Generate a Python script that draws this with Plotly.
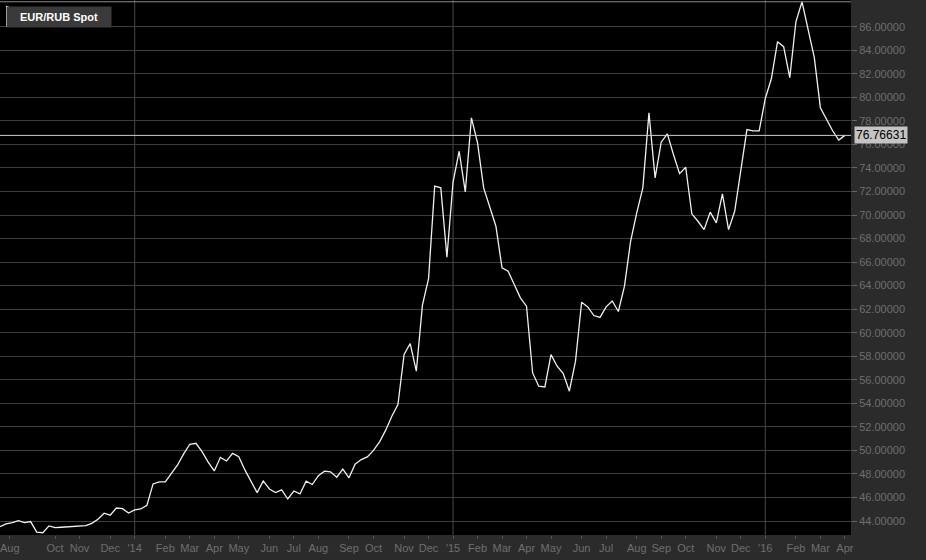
import plotly.graph_objects as go

series_name = "EUR/RUB Spot"
# weekly closes, index 0 = early Aug 2013
values = [
    43.52, 43.75, 43.86, 44.03, 43.86, 43.95, 43.06, 43.00, 43.58, 43.43,
    43.47, 43.50, 43.58, 43.60, 43.60, 43.80, 44.15, 44.66, 44.49, 45.10,
    45.05, 44.68, 44.94, 45.02, 45.34, 47.15, 47.32, 47.32, 48.05, 48.76,
    49.70, 50.52, 50.60, 49.89, 49.00, 48.25, 49.41, 49.10, 49.75, 49.47,
    48.34, 47.40, 46.41, 47.40, 46.72, 46.41, 46.64, 45.87, 46.55, 46.30,
    47.38, 47.10, 47.84, 48.23, 48.18, 47.72, 48.40, 47.67, 48.83, 49.22,
    49.45, 50.00, 50.73, 51.72, 52.90, 53.90, 58.15, 59.08, 56.73, 62.34,
    64.60, 72.45, 72.31, 66.42, 72.80, 75.42, 71.97, 78.25, 76.13, 72.31,
    70.75, 69.05, 65.51, 65.22, 64.09, 62.96, 62.25, 56.58, 55.45, 55.39,
    58.14, 57.15, 56.53, 55.03, 57.58, 62.59, 62.19, 61.46, 61.30, 62.20,
    62.70, 61.80, 63.95, 67.77, 70.18, 72.31, 78.68, 73.16, 76.19, 76.90,
    75.14, 73.52, 74.06, 70.10, 69.47, 68.76, 70.24, 69.33, 71.80, 68.76,
    70.32, 73.72, 77.26, 77.15, 77.15, 79.90, 81.60, 84.73, 84.30, 81.67,
    86.42, 88.12, 85.72, 83.39, 79.12, 78.07, 77.16, 76.37, 76.76631,
]
last_value = values[-1]

# x-axis ticks: position (week index) and label
tick_positions = [1.6, 9, 13, 18, 22, 27, 31, 35, 39, 44, 48, 52, 57, 61, 66, 70,
                  74, 78, 82, 86, 90, 95, 99, 104, 108, 112, 117, 121, 125, 130, 134, 138]
tick_labels = ["Aug", "Oct", "Nov", "Dec", "'14", "Feb", "Mar", "Apr", "May", "Jun", "Jul",
               "Aug", "Sep", "Oct", "Nov", "Dec", "'15", "Feb", "Mar", "Apr", "May", "Jun",
               "Jul", "Aug", "Sep", "Oct", "Nov", "Dec", "'16", "Feb", "Mar", "Apr"]
y_ticks = list(range(44, 87, 2))

FONT = "Liberation Sans, Arial, sans-serif"
x = list(range(len(values)))

fig = go.Figure()
fig.add_trace(go.Scatter(x=x, y=values, mode="lines",
                         line=dict(color="#f0f0f0", width=1.3),
                         hoverinfo="x+y", showlegend=False))

# year separators
for pos, lab in zip(tick_positions, tick_labels):
    if lab.startswith("'"):
        fig.add_shape(type="line", xref="x", yref="paper", x0=pos, x1=pos, y0=0, y1=1,
                      line=dict(color="#4a4a4a", width=1), layer="below")

# high line and last-value line
fig.add_shape(type="line", xref="paper", yref="y", x0=0, x1=1, y0=max(values), y1=max(values),
              line=dict(color="#8a8a8a", width=1))
fig.add_shape(type="line", xref="paper", yref="y", x0=0, x1=1, y0=last_value, y1=last_value,
              line=dict(color="#cfcfcf", width=1))

# series label box
fig.add_annotation(xref="paper", yref="paper", x=0, y=1, xanchor="left", yanchor="top",
                   xshift=6, yshift=-6, text="<b>" + series_name + "</b>", showarrow=False,
                   font=dict(family=FONT, size=11, color="#ffffff"),
                   bgcolor="#3a3a3a", borderpad=4, width=96, align="center")
fig.add_shape(type="rect", xref="paper", yref="paper", x0=6 / 851, x1=8.5 / 851,
              y0=1 - 27 / 535, y1=1 - 6 / 535, fillcolor="#ffffff", line=dict(width=0))

# last value label
fig.add_annotation(xref="paper", yref="y", x=1, y=last_value, xanchor="left", yanchor="middle",
                   xshift=3, text=f"{last_value:.5f}", showarrow=False,
                   font=dict(family=FONT, size=12, color="#000000"),
                   bgcolor="#c4c4c4", borderpad=1)

fig.update_layout(
    width=926, height=560,
    margin=dict(l=0, r=75, t=0, b=25),
    paper_bgcolor="#2b2b2b", plot_bgcolor="#000000",
    font=dict(family=FONT, size=11, color="#6e6e6e"),
    showlegend=False,
    xaxis=dict(range=[0, 139], tickmode="array", tickvals=tick_positions, ticktext=tick_labels,
               showgrid=False, zeroline=False, showline=False,
               ticks="outside", ticklen=3, tickcolor="#555555", ticklabeloverflow="allow",
               tickfont=dict(family=FONT, size=11, color="#6e6e6e")),
    yaxis=dict(side="right", range=[42.81, 88.27], tickmode="array", tickvals=y_ticks,
               tickformat=".5f", showgrid=True, gridcolor="#3e3e3e", gridwidth=1,
               zeroline=False, showline=False,
               ticks="outside", ticklen=5, tickcolor="#666666",
               tickfont=dict(family=FONT, size=11, color="#6e6e6e")),
)

fig.write_html("out.html", config={"displayModeBar": False},
               post_script="document.body.style.margin='0';document.body.style.padding='0';"
                           "document.body.style.overflow='hidden';")
